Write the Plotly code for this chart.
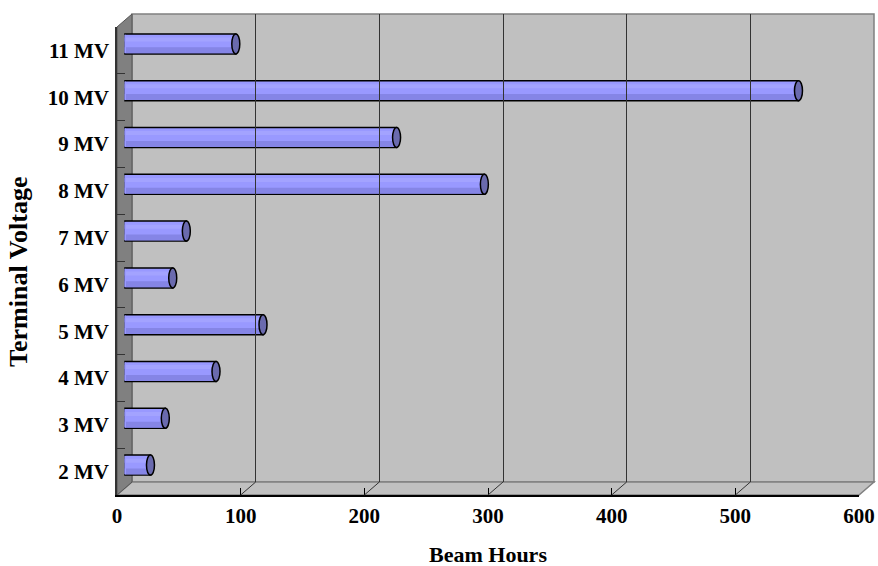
import plotly.graph_objects as go

# ---- data ----
categories = ["2 MV", "3 MV", "4 MV", "5 MV", "6 MV", "7 MV", "8 MV", "9 MV", "10 MV", "11 MV"]
beam_hours = [21, 33, 74, 112, 39, 50, 291, 220, 545, 90]
x_ticks = [0, 100, 200, 300, 400, 500, 600]
x_title = "Beam Hours"
y_title = "Terminal Voltage"

W, H = 878, 566
FONT = "Liberation Serif, Times New Roman, serif"
BAR = "#9999FF"
BAR_DARK = "#8585E6"
BAR_LIGHT = "#A3A3FF"
CAP = "#6A6AAE"

# pixel geometry of the 3-D box
FX0, FX1 = 117, 859      # front axis 0..600
FY0, FY1 = 495, 27       # front bottom/top
DX, DY = 15, 13          # depth offset (back wall)
MX, MY = DX / 2, DY / 2  # bars sit at mid depth


def px(x):
    return x / W


def py(y):
    return 1 - y / H


def path(points):
    return "M " + " L ".join(f"{px(x)},{py(y)}" for x, y in points) + " Z"


n = len(categories)
idx = list(range(n))
xr = [x_ticks[0], x_ticks[-1]]
yr = [-0.5, n - 0.5]
bar_w = 20 / ((FY0 - FY1) / n)

fig = go.Figure()

# cylinder body
fig.add_trace(go.Bar(
    x=beam_hours, y=idx, orientation="h", xaxis="x2", yaxis="y2",
    width=bar_w, marker=dict(color=BAR, line=dict(color="black", width=1.5)),
    hoverinfo="skip", showlegend=False))
# shading strips
fig.add_trace(go.Bar(
    x=beam_hours, y=idx, orientation="h", xaxis="x2", yaxis="y2",
    width=bar_w * 0.3, offset=-bar_w * 0.47,
    marker=dict(color=BAR_DARK, line=dict(width=0)),
    hoverinfo="skip", showlegend=False))
fig.add_trace(go.Bar(
    x=beam_hours, y=idx, orientation="h", xaxis="x2", yaxis="y2",
    width=bar_w * 0.2, offset=bar_w * 0.12,
    marker=dict(color=BAR_LIGHT, line=dict(width=0)),
    hoverinfo="skip", showlegend=False))

# invisible traces to establish front and back subplots
fig.add_trace(go.Scatter(x=[0], y=[categories[0]], xaxis="x", yaxis="y",
                         mode="markers", marker=dict(opacity=0), hoverinfo="skip", showlegend=False))
fig.add_trace(go.Scatter(x=[0], y=[0], xaxis="x3", yaxis="y3",
                         mode="markers", marker=dict(opacity=0), hoverinfo="skip", showlegend=False))

shapes = []
# walls (decoration)
shapes.append(dict(type="path", xref="paper", yref="paper", layer="below",
                   path=path([(FX0 + DX, FY1 - DY), (FX1 + DX, FY1 - DY), (FX1 + DX, FY0 - DY), (FX0 + DX, FY0 - DY)]),
                   fillcolor="#C0C0C0", line=dict(color="#808080", width=1.5)))
shapes.append(dict(type="path", xref="paper", yref="paper", layer="below",
                   path=path([(FX0, FY0), (FX0 + DX, FY0 - DY), (FX1 + DX, FY0 - DY), (FX1, FY0)]),
                   fillcolor="#C0C0C0", line=dict(color="#808080", width=1.5)))
shapes.append(dict(type="path", xref="paper", yref="paper", layer="below",
                   path=path([(FX0, FY1), (FX0 + DX, FY1 - DY), (FX0 + DX, FY0 - DY), (FX0, FY0)]),
                   fillcolor="#808080", line=dict(color="#555555", width=1)))
# floor grid diagonals from front ticks to back grid
for t in x_ticks[1:-1]:
    shapes.append(dict(type="line", xref="x", xsizemode="pixel", xanchor=t, x0=0, x1=DX,
                       yref="paper", ysizemode="pixel", yanchor=py(FY0), y0=0, y1=DY,
                       line=dict(color="#333333", width=1)))

# cylinder caps
for i, v in enumerate(beam_hours):
    shapes.append(dict(type="path", xref="x2", yref="y2", xsizemode="pixel", ysizemode="pixel",
                       xanchor=0, yanchor=i,
                       path="M 1.5,-9.2 L 0,-9.2 C -5,-9.2 -5,9.2 0,9.2 L 1.5,9.2 Z",
                       fillcolor=BAR, line=dict(width=0)))
    shapes.append(dict(type="path", xref="x2", yref="y2", xsizemode="pixel", ysizemode="pixel",
                       xanchor=0, yanchor=i,
                       path="M 0.5,-10 C -5.3,-10 -5.3,10 0.5,10",
                       fillcolor="rgba(0,0,0,0)", line=dict(color="black", width=1.5)))
    shapes.append(dict(type="circle", xref="x2", yref="y2", xsizemode="pixel", ysizemode="pixel",
                       xanchor=v, yanchor=i, x0=-4, x1=4, y0=-10, y1=10,
                       fillcolor=CAP, line=dict(color="black", width=1.5)))

tickfont = dict(family=FONT, size=21, color="black", weight="bold")

fig.update_layout(
    width=W, height=H, margin=dict(l=0, r=0, t=0, b=0, autoexpand=False),
    paper_bgcolor="white", plot_bgcolor="rgba(0,0,0,0)",
    barmode="overlay", showlegend=False, shapes=shapes,
    xaxis=dict(domain=[px(FX0), px(FX1)], range=xr, anchor="y", automargin=False,
               tickvals=x_ticks, ticktext=[str(t) for t in x_ticks],
               ticks="inside", ticklen=7, tickcolor="black", tickwidth=1,
               showline=True, linecolor="black", linewidth=1.5, showgrid=False, zeroline=False,
               tickfont=tickfont, ticklabelstandoff=1, fixedrange=True),
    yaxis=dict(domain=[py(FY0), py(FY1)], range=yr, anchor="x", type="category", automargin=False,
               categoryorder="array", categoryarray=categories,
               tickson="boundaries", ticks="inside", ticklen=8, tickcolor="#333333",
               showline=True, linecolor="#333333", linewidth=1.5, showgrid=False, zeroline=False,
               tickfont=tickfont, ticklabelstandoff=2, fixedrange=True),
    xaxis2=dict(domain=[px(FX0 + MX), px(FX1 + MX)], range=xr, anchor="y2", visible=False,
                automargin=False, fixedrange=True),
    yaxis2=dict(domain=[py(FY0 - MY), py(FY1 - MY)], range=yr, anchor="x2", visible=False,
                automargin=False, fixedrange=True),
    xaxis3=dict(domain=[px(FX0 + DX), px(FX1 + DX)], range=xr, anchor="y3", automargin=False,
                tickvals=x_ticks[1:-1], showticklabels=False, ticks="",
                showgrid=True, gridcolor="#333333", gridwidth=1, zeroline=False, showline=False,
                fixedrange=True),
    yaxis3=dict(domain=[py(FY0 - DY), py(FY1 - DY)], range=[0, 1], anchor="x3", visible=False,
                automargin=False, fixedrange=True),
    annotations=[
        dict(text=x_title, xref="paper", yref="paper", x=px((FX0 + FX1) / 2), y=py(554),
             showarrow=False, font=dict(family=FONT, size=22, color="black", weight="bold"),
             xanchor="center", yanchor="middle"),
        dict(text=y_title, xref="paper", yref="paper", x=px(18), y=py(272),
             showarrow=False, font=dict(family=FONT, size=26, color="black", weight="bold"),
             textangle=-90, xanchor="center", yanchor="middle"),
    ],
)

fig.write_html("out.html", config=dict(displayModeBar=False))
